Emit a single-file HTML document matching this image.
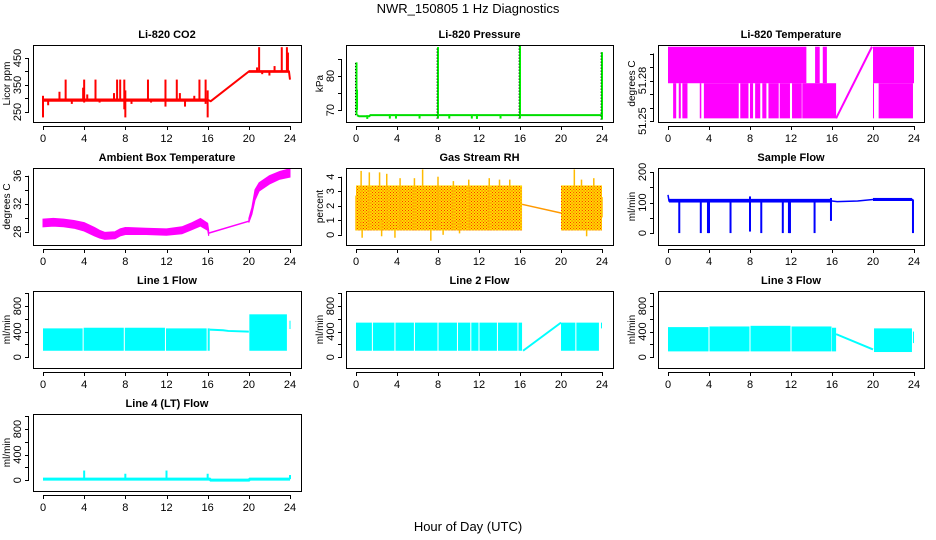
<!DOCTYPE html>
<html><head><meta charset="utf-8"><style>
html,body{margin:0;padding:0;background:#fff;}
svg{display:block;font-family:"Liberation Sans",Arial,sans-serif;}
</style></head><body>
<svg id="c" width="936" height="540" viewBox="0 0 936 540">
<defs>
<pattern id="rhpat" width="3" height="3" patternUnits="userSpaceOnUse"><rect width="3" height="3" fill="#ffdd00"/><rect width="1" height="1" fill="#ff3000"/><rect x="1.5" y="1.5" width="1" height="1" fill="#ff3000"/></pattern>
</defs>
<text x="468" y="13" text-anchor="middle" font-size="13">NWR_150805  1 Hz Diagnostics</text>
<text x="468" y="531" text-anchor="middle" font-size="13">Hour of Day (UTC)</text>
</svg>
<script>
const xTicks=[0,4,8,12,16,20,24];
// CO2
const co2Band=[[0,16,288,300],[20,23.9,395,405]];
const co2Line=[[0,295],[16,295],[16.3,290],[20,400],[23.9,400],[24,370]];
const co2Spikes=[[0,230,310],[0.5,275,295],[1.6,295,325],[2.2,295,370],[2.8,280,300],[3.9,295,340],[4.0,285,370],[4.3,295,315],[5.1,295,370],[5.5,285,295],[6.9,290,320],[7.2,295,370],[7.5,295,370],[7.9,260,370],[8.0,230,330],[8.6,280,300],[10.2,295,370],[10.5,285,295],[11.9,270,370],[13.0,295,370],[13.3,295,320],[13.8,270,300],[14.7,295,310],[15.2,295,370],[15.8,280,370],[16.0,230,330],[20.8,400,415],[21.0,400,490],[21.3,390,400],[22.0,385,400],[22.5,400,420],[23.2,400,490],[23.7,400,490],[23.8,400,470]];
// Pressure
const presLine=[[0.1,68.5],[0.3,68.2],[1.3,68.2],[1.4,68.5],[24,68.5]];
const presSpikes=[[0.05,68.5,84],[0.1,70,76],[1.1,67.4,68.5],[3.3,67.5,68.8],[3.9,67.5,68.8],[6.2,67.5,68.8],[8.0,67.5,88.5],[9.1,67.5,68.8],[11.3,67.5,68.5],[11.8,67.4,68.8],[14.1,67.5,68.6],[16.0,67.5,89],[24.0,67.2,87]];
// Li-820 temperature
const tL=51.252,tM=51.278,tH=51.305;
const tempBlocks=[[0,13.5,tM,tH],[0.5,0.8,tL,tM],[1.05,1.25,tL,tM],[1.4,1.9,tL,tM],[3.1,3.25,tL,tM],[3.5,6.9,tL,tM],[7.05,7.85,tL,tM],[8.0,8.3,tL,tM],[8.5,9.0,tL,tM],[9.2,9.6,tL,tM],[9.8,10.8,tL,tM],[10.9,11.9,tL,tM],[12.1,13.05,tL,tM],[13.1,16.4,tL,tM],[14.35,14.8,tM,tH],[15.1,15.5,tM,tH],[20,24,tM,tH],[20.0,20.05,tL,tM],[20.55,23.9,tL,tM]];
const tempLine=[[16.4,tL],[19.9,tH]];
// Ambient
const ambBand1=[[0,28.7,29.8],[1,28.8,29.9],[2,28.7,29.8],[3,28.5,29.6],[4,28.1,29.3],[5,27.4,28.6],[5.5,27.1,28.2],[6,26.9,27.9],[7,27.0,28.0],[7.5,27.4,28.4],[8,27.6,28.6],[10,27.6,28.5],[12,27.5,28.4],[13.5,27.7,28.7],[14.5,28.3,29.3],[15.3,28.8,29.9],[16,28.2,29.2],[16.1,27.4,28.2]];
const ambLine=[[16.1,27.8],[20,29.5]];
const ambBand2=[[20,29.3,29.9],[20.3,30.5,31.5],[20.6,32.5,34],[21,33.8,35],[22,34.8,36],[23,35.5,36.6],[24,35.8,37]];
// RH
const rhBand=[[0,16.2,0.3,3.4],[20,24,0.3,3.4]];
const rhSpikes=[[0,0.3,2.7],[0.5,0.3,4.4],[1.3,0.3,4.3],[2.3,0.3,4.3],[3.0,0.3,4.2],[4.3,0.3,3.9],[5.7,0.3,3.9],[6.5,0.3,4.5],[8.0,0.3,4.0],[9.5,0.3,3.7],[11,0.3,3.8],[13,0.3,3.9],[14.0,0.3,3.8],[15,0.3,3.8],[21.3,0.3,4.5],[22,0.3,3.8],[23.2,0.3,3.9],[0.6,-0.2,1],[2.5,-0.1,1],[3.8,-0.2,1],[7.3,-0.4,1],[8.5,0,1],[10.1,0.1,1],[22.5,-0.1,1],[24,1.2,2.6]];
const rhLine=[[16.2,2.1],[20,1.5]];
// Sample flow
const sfBand=[[0.1,16,100,112],[20,23.8,105,115]];
const sfLine=[[0,125],[0.1,105],[16,105],[16.5,103],[18.5,105],[20,110],[23.9,110]];
const sfSpikes=[[1.1,0,105],[3.2,0,105],[3.9,0,105],[4.0,0,110],[6.1,0,105],[8.0,5,120],[9.1,0,105],[11.2,0,105],[11.8,0,105],[11.9,0,105],[14.3,0,105],[15.9,40,115],[23.9,0,110]];
// Line flows
const l1Band=[[0,3.85,100,450],[3.95,7.85,100,460],[7.95,11.85,100,460],[11.95,15.9,100,450],[16.0,16.2,100,450],[20.05,23.7,100,670],[23.95,24.05,440,570]];
const l1Line=[[16.2,430],[17.5,420],[18,410],[20,400]];
const l2Band=[[0,1.55,100,540],[1.65,3.75,100,540],[3.85,5.65,100,540],[5.75,7.95,100,540],[8.05,9.85,100,540],[9.95,11.15,100,540],[11.25,11.95,100,540],[12.05,13.75,100,540],[13.85,15.75,100,540],[15.85,16.2,100,540],[20,21.4,100,540],[21.5,23.7,100,540],[23.9,24,450,540]];
const l2Line=[[16.3,100],[20,540]];
const l3Band=[[0,3.95,90,470],[4.05,7.95,90,480],[8.05,11.95,90,490],[12.05,15.95,90,480],[16.0,16.4,90,460],[20.1,23.8,80,450],[23.9,24,220,400]];
const l3Line=[[16.4,360],[20,120]];
const l4Line=[[0,15],[16.2,15],[16.3,0],[20,0],[20.1,15],[24,15]];
const l4Spikes=[[4,15,150],[8,15,100],[12,15,150],[16,15,100],[24,15,80]];

const NS='http://www.w3.org/2000/svg';
const svg=document.getElementById('c');
function mk(tag,attrs,parent){const e=document.createElementNS(NS,tag);for(const k in attrs)e.setAttribute(k,attrs[k]);(parent||svg).appendChild(e);return e;}
const cols=[{bx:33,bw:268,x0:43,x1:290},{bx:346,bw:267,x0:356,x1:602},{bx:658,bw:266,x0:668,x1:914}];
const rows=[45,168,291,414];
const BH=77;
function panel(col,row,title,ylab,ymin,ymax,ticks,labels,name){
  const c=cols[col],top=rows[row];
  const g=mk('g',{});
  
  
  const sx=h=>c.x0+(c.x1-c.x0)*h/24;
  const sy=v=>top+BH-(v-ymin)/(ymax-ymin)*BH;
  const t=mk('text',{x:c.bx+c.bw/2,y:top-7,'text-anchor':'middle','font-size':11,'font-weight':'bold'},g);
  t.textContent=title;
  
  
  const yl=mk('text',{transform:`translate(${c.bx-23},${top+BH/2}) rotate(-90)`,'text-anchor':'middle','font-size':10},g);
  yl.textContent=ylab;
  
  
  const xa=mk('g',{stroke:'#000','stroke-width':1},g);
  
  
  mk('line',{x1:sx(0),x2:sx(24),y1:top+BH+4.5,y2:top+BH+4.5},xa);
  xTicks.forEach(h=>{mk('line',{x1:Math.round(sx(h))+.5,x2:Math.round(sx(h))+.5,y1:top+BH+4,y2:top+BH+8},xa);
    const tx=mk('text',{x:sx(h),y:top+BH+20,'text-anchor':'middle','font-size':11,stroke:'none'},xa);tx.textContent=h;
    
    });
  const ya=mk('g',{stroke:'#000'},g);
  
  
  mk('line',{x1:c.bx-4.5,x2:c.bx-4.5,y1:sy(ticks[0]),y2:sy(ticks[ticks.length-1])},ya);
  ticks.forEach(v=>{mk('line',{x1:c.bx-8,x2:c.bx-4,y1:Math.round(sy(v))+.5,y2:Math.round(sy(v))+.5},ya);});
  labels.forEach(v=>{const tl=mk('text',{transform:`translate(${c.bx-12},${sy(v)}) rotate(-90)`,'text-anchor':'middle','font-size':11,stroke:'none'},ya);tl.textContent=v;
    
    });
  const plot=mk('g',{},g);
  
  
  mk('rect',{x:c.bx+.5,y:top+.5,width:c.bw,height:BH,fill:'none',stroke:'#000'},g);
  return {sx,sy,g:plot};
}
function bands(p,arr,fill,nm){arr.forEach(b=>{const r=mk('rect',{x:p.sx(b[0]),y:p.sy(b[3]),width:Math.max(1,p.sx(b[1])-p.sx(b[0])),height:Math.max(1,p.sy(b[2])-p.sy(b[3])),fill:fill},p.g);
  
  });}
function line(p,arr,col,w,nm){const l=mk('polyline',{points:arr.map(d=>p.sx(d[0])+','+p.sy(d[1])).join(' '),fill:'none',stroke:col,'stroke-width':w},p.g);
  
  }
function spikes(p,arr,col,w,nm,dash,off){arr.forEach(s=>{const x=p.sx(s[0])+(off||0);const l=mk('line',{x1:x,x2:x,y1:p.sy(s[1]),y2:p.sy(s[2]),stroke:col,'stroke-width':w},p.g);
  if(dash)l.setAttribute('stroke-dasharray',dash);
  
  });}
function poly(p,arr,fill,nm){const pts=arr.map(d=>p.sx(d[0])+','+p.sy(d[2])).concat(arr.slice().reverse().map(d=>p.sx(d[0])+','+p.sy(d[1])));
  const e=mk('polygon',{points:pts.join(' '),fill:fill,stroke:fill,'stroke-width':1},p.g);
  
  }

let p=panel(0,0,'Li-820 CO2','Licor ppm',213,498,[250,300,350,400,450],[250,350,450],'co2-panel');
bands(p,co2Band,'#ff0000','co2-band');line(p,co2Line,'#ff0000',2,'co2-line');spikes(p,co2Spikes,'#ff0000',2,'co2-spike');
p=panel(1,0,'Li-820 Pressure','kPa',66.5,89.1,[70,75,80,85],[70,80],'pressure-panel');
line(p,presLine,'#00dd00',2,'pressure-line');spikes(p,presSpikes,'#00ee00',2,'pressure-spike');
spikes(p,presSpikes.filter(s=>s[2]>80),'#000',1,'pressure-spike-dots','1,2',-1);
p=panel(2,0,'Li-820 Temperature','degrees C',51.2493,51.3063,[51.25,51.26,51.27,51.28,51.29,51.30],['51.25','51.28'],'temperature-panel');
bands(p,tempBlocks,'#ff00ff','temp-block');line(p,tempLine,'#ff00ff',2,'temp-line');
p=panel(0,1,'Ambient Box Temperature','degrees C',26.1,37.1,[28,30,32,34,36],[28,32,36],'ambient-panel');
poly(p,ambBand1,'#ff00ff','ambient-band');line(p,ambLine,'#ff00ff',1.5,'ambient-line');poly(p,ambBand2,'#ff00ff','ambient-band');
p=panel(1,1,'Gas Stream RH','percent',-0.7,4.6,[0,1,2,3,4],[0,1,2,3,4],'rh-panel');
bands(p,rhBand,'url(#rhpat)','rh-band');spikes(p,rhSpikes,'#ffbb00',1.5,'rh-spike');line(p,rhLine,'#ff9900',1.5,'rh-line');
p=panel(2,1,'Sample Flow','ml/min',-39,213,[0,50,100,150,200],[0,100,200],'sample-flow-panel');
bands(p,sfBand,'#0000ff','sf-band');line(p,sfLine,'#0000ff',1.5,'sf-line');spikes(p,sfSpikes,'#0000ff',2,'sf-spike');
const fT=[0,200,400,600,800,1000],fL=[0,400,800];
p=panel(0,2,'Line 1 Flow','ml/min',-170,1035,fT,fL,'line1-flow-panel');
bands(p,l1Band,'#00ffff','l1-band');line(p,l1Line,'#00ffff',2,'l1-line');
p=panel(1,2,'Line 2 Flow','ml/min',-170,1035,fT,fL,'line2-flow-panel');
bands(p,l2Band,'#00ffff','l2-band');line(p,l2Line,'#00ffff',2,'l2-line');
p=panel(2,2,'Line 3 Flow','ml/min',-170,1035,fT,fL,'line3-flow-panel');
bands(p,l3Band,'#00ffff','l3-band');line(p,l3Line,'#00ffff',2,'l3-line');
p=panel(0,3,'Line 4 (LT) Flow','ml/min',-170,1035,fT,fL,'line4-flow-panel');
line(p,l4Line,'#00ffff',3,'l4-line');spikes(p,l4Spikes,'#00ffff',2,'l4-spike');
</script>
</body></html>
